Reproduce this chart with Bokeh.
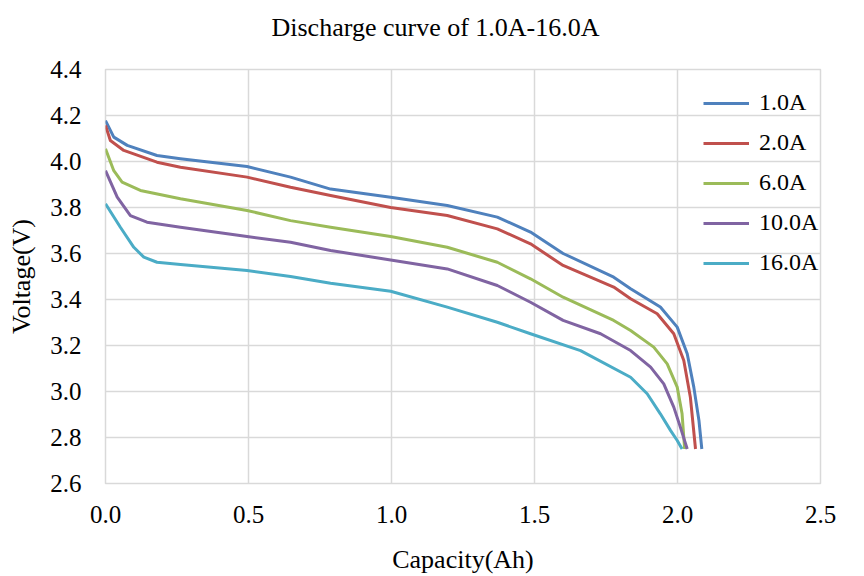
from bokeh.plotting import figure
from bokeh.models import FixedTicker, PrintfTickFormatter, Legend, LegendItem, Title
from bokeh.embed import file_html
from bokeh.resources import INLINE

title_text = "Discharge curve of 1.0A-16.0A"
x_label = "Capacity(Ah)"
y_label = "Voltage(V)"

series_names = ["1.0A", "2.0A", "6.0A", "10.0A", "16.0A"]
colors = ["#4F81BD", "#C0504D", "#9BBB59", "#8064A2", "#4BACC6"]

x_1a = [0, 0.029, 0.076, 0.18, 0.262, 0.495, 0.647, 0.787, 0.997, 1.195, 1.37, 1.486, 1.60, 1.777, 1.836, 1.94, 1.999, 2.034, 2.057, 2.075, 2.085]
y_1a = [4.178, 4.106, 4.07, 4.026, 4.012, 3.978, 3.932, 3.88, 3.845, 3.809, 3.758, 3.693, 3.60, 3.497, 3.447, 3.367, 3.28, 3.164, 3.019, 2.874, 2.75]

x_2a = [0, 0.017, 0.064, 0.18, 0.262, 0.495, 0.647, 0.787, 0.997, 1.195, 1.37, 1.486, 1.60, 1.777, 1.836, 1.929, 1.987, 2.022, 2.045, 2.063]
y_2a = [4.157, 4.091, 4.048, 3.997, 3.975, 3.932, 3.888, 3.852, 3.80, 3.765, 3.707, 3.642, 3.548, 3.454, 3.403, 3.338, 3.251, 3.135, 2.975, 2.75]

x_6a = [0, 0.029, 0.058, 0.122, 0.262, 0.495, 0.647, 0.787, 0.997, 1.195, 1.37, 1.486, 1.60, 1.777, 1.836, 1.917, 1.964, 1.999, 2.016, 2.025]
y_6a = [4.055, 3.96, 3.91, 3.874, 3.838, 3.787, 3.743, 3.714, 3.674, 3.627, 3.562, 3.49, 3.41, 3.309, 3.265, 3.193, 3.12, 3.019, 2.903, 2.75]

x_10a = [0, 0.041, 0.087, 0.145, 0.262, 0.495, 0.647, 0.787, 0.997, 1.195, 1.37, 1.486, 1.60, 1.731, 1.836, 1.906, 1.952, 1.987, 2.01, 2.034]
y_10a = [3.96, 3.845, 3.765, 3.736, 3.714, 3.674, 3.649, 3.613, 3.572, 3.533, 3.461, 3.388, 3.309, 3.251, 3.178, 3.106, 3.033, 2.932, 2.845, 2.75]

x_16a = [0, 0.052, 0.099, 0.134, 0.18, 0.262, 0.495, 0.647, 0.787, 0.997, 1.195, 1.37, 1.486, 1.661, 1.836, 1.894, 1.94, 1.976, 1.999, 2.016]
y_16a = [3.816, 3.714, 3.627, 3.584, 3.562, 3.552, 3.526, 3.50, 3.471, 3.436, 3.367, 3.301, 3.251, 3.178, 3.062, 2.99, 2.903, 2.83, 2.787, 2.75]

x_ticks = [0.0, 0.5, 1.0, 1.5, 2.0, 2.5]
y_ticks = [2.6, 2.8, 3.0, 3.2, 3.4, 3.6, 3.8, 4.0, 4.2, 4.4]

FONT = "Liberation Serif"
GRID = "#d9d9d9"

p = figure(frame_width=715, frame_height=414, output_backend="svg", toolbar_location=None,
           x_range=(0, 2.5), y_range=(2.6, 4.4),
           min_border_left=105, min_border_right=28, min_border_top=69, min_border_bottom=0)

# spacer between the frame and the title
spacer = Title(text=" ", text_font_size="1px", standoff=24)
p.add_layout(spacer, "above")

p.title.text = title_text
p.title.align = "left"
p.title.offset = 166
p.title.text_font = FONT
p.title.text_font_size = "26px"
p.title.text_font_style = "normal"
p.title.text_color = "#000000"
p.title.standoff = 2

p.outline_line_color = GRID
p.outline_line_width = 1.5

for ax, ticks in ((p.xaxis[0], x_ticks), (p.yaxis[0], y_ticks)):
    ax.ticker = FixedTicker(ticks=ticks)
    ax.formatter = PrintfTickFormatter(format="%.1f")
    ax.axis_line_color = None
    ax.major_tick_line_color = None
    ax.minor_tick_line_color = None
    ax.major_tick_out = 0
    ax.major_tick_in = 0
    ax.minor_tick_out = 0
    ax.minor_tick_in = 0
    ax.major_label_text_font = FONT
    ax.major_label_text_font_size = "25px"
    ax.major_label_text_color = "#000000"
    ax.axis_label_text_font = FONT
    ax.axis_label_text_font_size = "26px"
    ax.axis_label_text_font_style = "normal"
    ax.axis_label_text_color = "#000000"

p.xaxis.axis_label = x_label
p.yaxis.axis_label = y_label
p.xaxis.major_label_standoff = 22
p.xaxis.axis_label_standoff = 19
p.yaxis.major_label_standoff = 24
p.yaxis.axis_label_standoff = 11

p.xgrid.ticker = FixedTicker(ticks=x_ticks)
p.ygrid.ticker = FixedTicker(ticks=y_ticks)
for g in (p.xgrid, p.ygrid):
    g.grid_line_color = GRID
    g.grid_line_width = 1.5

xs = [x_1a, x_2a, x_6a, x_10a, x_16a]
ys = [y_1a, y_2a, y_6a, y_10a, y_16a]
items = []
for name, c, x, y in zip(series_names, colors, xs, ys):
    r = p.line(x, y, line_color=c, line_width=3, line_join="round", line_cap="butt")
    items.append(LegendItem(label=name, renderers=[r]))

legend = Legend(items=items, location=(598, 207))
legend.background_fill_alpha = 0
legend.border_line_alpha = 0
legend.label_text_font = FONT
legend.label_text_font_size = "24px"
legend.label_text_color = "#000000"
legend.glyph_width = 46
legend.glyph_height = 20
legend.label_height = 20
legend.spacing = 13
legend.label_standoff = 10
legend.margin = 0
legend.padding = 0
p.add_layout(legend)

open("out.html", "w").write(file_html(p, INLINE))
